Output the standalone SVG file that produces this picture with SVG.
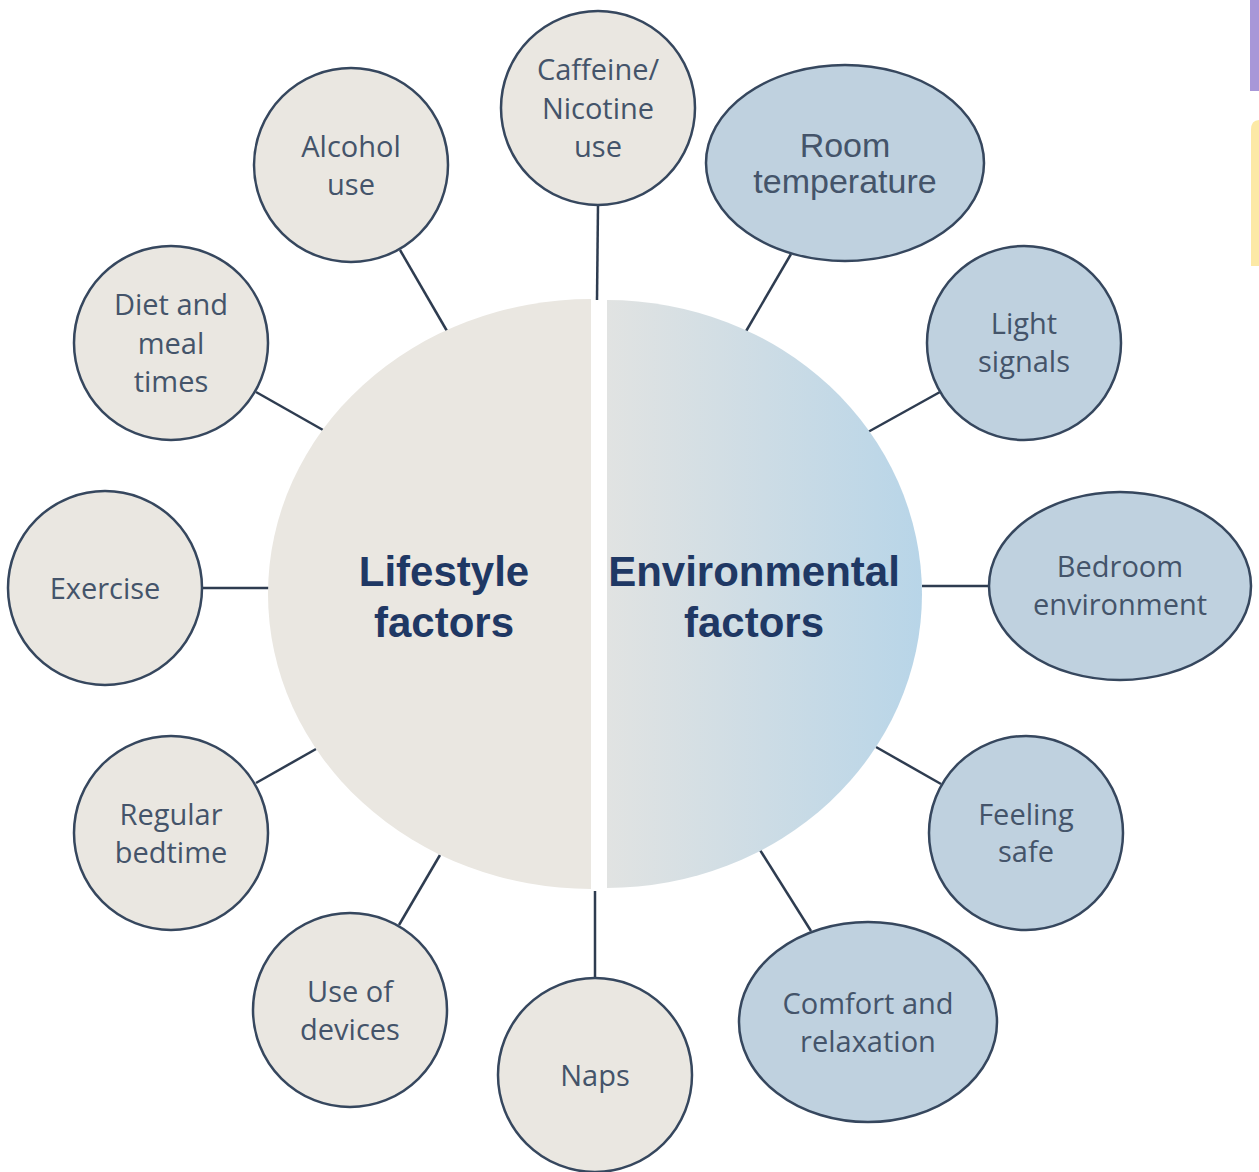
<svg xmlns="http://www.w3.org/2000/svg" width="1259" height="1172" viewBox="0 0 1259 1172">
<defs>
<linearGradient id="envGrad" x1="0" y1="0" x2="1" y2="0">
<stop offset="0" stop-color="#e1e3e2"/>
<stop offset="1" stop-color="#b8d5e8"/>
</linearGradient>
</defs>
<style>
.life{fill:#eae7e1;stroke:#36475e;stroke-width:2.5}
.env{fill:#bfd1df;stroke:#36475e;stroke-width:2.5}
.lbl{font-family:"Open Sans","Noto Sans",sans-serif;font-size:29px;fill:#44546a;text-anchor:middle}
.lbl2{font-family:"Liberation Sans",Arial,sans-serif;font-size:34px;fill:#44546a;text-anchor:middle}
.title{font-family:"Liberation Sans",Arial,sans-serif;font-size:42px;font-weight:bold;fill:#1f3864;text-anchor:middle}
.conn line{stroke:#2e3c50;stroke-width:2.5}
</style>
<rect width="1259" height="1172" fill="#ffffff"/>
<rect x="1250" y="0" width="9" height="91" fill="#a897d8"/>
<path d="M1259,120 L1259,266 L1251,266 L1251,130 Q1251,120 1259,120 Z" fill="#fce9a6"/>

<g id="connectors" class="conn">
<line x1="598" y1="205" x2="597" y2="300"/>
<line x1="400" y1="250" x2="447" y2="331"/>
<line x1="256" y1="392" x2="323" y2="430"/>
<line x1="202" y1="588" x2="269" y2="588"/>
<line x1="256" y1="783" x2="316" y2="749"/>
<line x1="399" y1="925" x2="440" y2="855"/>
<line x1="595" y1="978" x2="595" y2="891"/>
<line x1="791" y1="254" x2="745" y2="333"/>
<line x1="940" y1="392" x2="868" y2="432"/>
<line x1="922" y1="586" x2="989" y2="586"/>
<line x1="876" y1="747" x2="941" y2="784"/>
<line x1="760" y1="850" x2="811" y2="931"/>
</g>

<g id="lifestyle-hub">
<path d="M591,299 A323,295 0 0 0 591,889 Z" fill="#eae7e1"/>
<text class="title" x="444" y="586">Lifestyle</text>
<text class="title" x="444" y="637">factors</text>
</g>
<g id="environmental-hub">
<path d="M607,300 A315,294 0 0 1 607,888 Z" fill="url(#envGrad)"/>
<text class="title" x="754" y="586">Environmental</text>
<text class="title" x="754" y="637">factors</text>
</g>

<g id="caffeine">
<circle class="life" cx="598" cy="108" r="97"/>
<text class="lbl" x="598" y="80">Caffeine/</text>
<text class="lbl" x="598" y="119">Nicotine</text>
<text class="lbl" x="598" y="157">use</text>
</g>
<g id="alcohol">
<circle class="life" cx="351" cy="165" r="97"/>
<text class="lbl" x="351" y="157">Alcohol</text>
<text class="lbl" x="351" y="195">use</text>
</g>
<g id="diet">
<circle class="life" cx="171" cy="343" r="97"/>
<text class="lbl" x="171" y="315">Diet and</text>
<text class="lbl" x="171" y="354">meal</text>
<text class="lbl" x="171" y="392">times</text>
</g>
<g id="exercise">
<circle class="life" cx="105" cy="588" r="97"/>
<text class="lbl" x="105" y="599">Exercise</text>
</g>
<g id="regular-bedtime">
<circle class="life" cx="171" cy="833" r="97"/>
<text class="lbl" x="171" y="825">Regular</text>
<text class="lbl" x="171" y="863">bedtime</text>
</g>
<g id="devices">
<circle class="life" cx="350" cy="1010" r="97"/>
<text class="lbl" x="350" y="1002">Use of</text>
<text class="lbl" x="350" y="1040">devices</text>
</g>
<g id="naps">
<circle class="life" cx="595" cy="1075" r="97"/>
<text class="lbl" x="595" y="1086">Naps</text>
</g>

<g id="room-temperature">
<ellipse class="env" cx="845" cy="163" rx="139" ry="98"/>
<text class="lbl2" x="845" y="157">Room</text>
<text class="lbl2" x="845" y="193">temperature</text>
</g>
<g id="light-signals">
<circle class="env" cx="1024" cy="343" r="97"/>
<text class="lbl" x="1024" y="334">Light</text>
<text class="lbl" x="1024" y="372">signals</text>
</g>
<g id="bedroom-environment">
<ellipse class="env" cx="1120" cy="586" rx="131" ry="94"/>
<text class="lbl" x="1120" y="577">Bedroom</text>
<text class="lbl" x="1120" y="615">environment</text>
</g>
<g id="feeling-safe">
<circle class="env" cx="1026" cy="833" r="97"/>
<text class="lbl" x="1026" y="825">Feeling</text>
<text class="lbl" x="1026" y="862">safe</text>
</g>
<g id="comfort">
<ellipse class="env" cx="868" cy="1022" rx="129" ry="100"/>
<text class="lbl" x="868" y="1014">Comfort and</text>
<text class="lbl" x="868" y="1052">relaxation</text>
</g>
</svg>
